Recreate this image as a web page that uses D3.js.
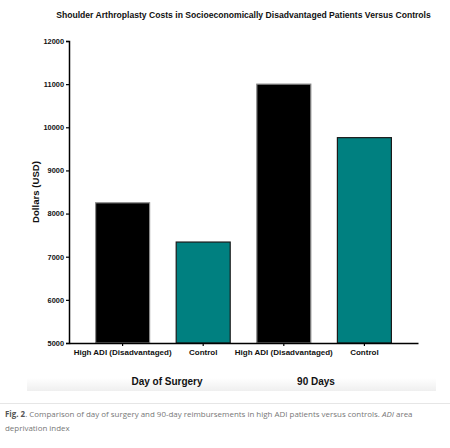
<!DOCTYPE html>
<html lang="en">
<head>
    <meta charset="UTF-8">
    <script src="https://cdn.jsdelivr.net/npm/d3@7"></script>
    <title>Shoulder Arthroplasty Costs</title>
    <style>
        html,
        body {
            margin: 0px;
            padding: 0px;
            background-color: #ffffff;
        }
        svg { display: block; }
    </style>
</head>
<body>
    <div id='chart'></div>
    <script>

        // values
        const categories = ['High ADI (Disadvantaged)', 'Control', 'High ADI (Disadvantaged) ', 'Control '];
        const costs = [8250, 7340, 11000, 9760];
        const fills = ['#000000', '#008080', '#000000', '#008080'];
        const yTicks = [5000, 6000, 7000, 8000, 9000, 10000, 11000, 12000];
        const groups = ['Day of Surgery', '90 Days'];

        const width = 450, height = 448;
        const plotLeft = 69, plotRight = 418, plotTop = 41, plotBottom = 343;

        let svg = d3.select('#chart').append('svg')
            .attr('width', width).attr('height', height);

        let defs = svg.append('defs');
        let grad = defs.append('linearGradient').attr('id', 'band')
            .attr('x1', 0).attr('y1', 0).attr('x2', 0).attr('y2', 1);
        grad.append('stop').attr('offset', '0%').attr('stop-color', '#ffffff');
        grad.append('stop').attr('offset', '100%').attr('stop-color', '#efefef');

        // faint shaded strip behind the group labels
        svg.append('rect')
            .attr('x', 27).attr('y', 378)
            .attr('width', 409).attr('height', 13)
            .attr('fill', 'url(#band)');

        let x = d3.scaleBand()
            .domain(categories)
            .range([plotLeft, plotRight])
            .paddingInner(0.33)
            .paddingOuter(0.33);

        let y = d3.scaleLinear()
            .domain([5000, 12000])
            .range([plotBottom, plotTop]);

        // title
        svg.append('text')
            .attr('x', 243.5).attr('y', 18)
            .attr('text-anchor', 'middle')
            .attr('font-family', 'Liberation Sans, Arial, sans-serif')
            .attr('font-weight', 'bold')
            .attr('font-size', '8.6px')
            .attr('fill', '#111')
            .text('Shoulder Arthroplasty Costs in Socioeconomically Disadvantaged Patients Versus Controls');

        // bars
        svg.append('g').selectAll('rect')
            .data(costs)
            .join('rect')
            .attr('x', (d, i) => x(categories[i]))
            .attr('y', d => y(d))
            .attr('width', x.bandwidth())
            .attr('height', d => y(5000) - y(d))
            .attr('fill', (d, i) => fills[i])
            .attr('stroke', (d, i) => fills[i] === '#000000' ? '#8a8a8a' : '#1a1a1a')
            .attr('stroke-width', 1.2);

        // y axis
        let yAxis = svg.append('g')
            .attr('transform', `translate(${plotLeft},0)`)
            .call(d3.axisLeft(y).tickValues(yTicks).tickSize(3).tickPadding(2).tickFormat(d3.format('d')));
        yAxis.select('.domain').attr('stroke', '#000').attr('stroke-width', 1.5);
        yAxis.selectAll('.tick line').attr('stroke', '#000').attr('stroke-width', 1.2);
        yAxis.selectAll('.tick text')
            .attr('font-family', 'Liberation Sans, Arial, sans-serif')
            .attr('font-weight', 'bold')
            .attr('font-size', '7.4px')
            .attr('fill', '#111');

        // x axis
        let xAxis = svg.append('g')
            .attr('transform', `translate(0,${plotBottom})`)
            .call(d3.axisBottom(x).tickSize(3).tickPadding(3).tickSizeOuter(0));
        xAxis.select('.domain').attr('stroke', '#000').attr('stroke-width', 1.5);
        xAxis.selectAll('.tick line').attr('stroke', '#000').attr('stroke-width', 1.2);
        xAxis.selectAll('.tick text')
            .attr('font-family', 'Liberation Sans, Arial, sans-serif')
            .attr('font-weight', 'bold')
            .attr('font-size', '8px')
            .attr('fill', '#111');

        // y label
        svg.append('text')
            .attr('transform', 'translate(39,192) rotate(-90)')
            .attr('text-anchor', 'middle')
            .attr('font-family', 'Liberation Sans, Arial, sans-serif')
            .attr('font-weight', 'bold')
            .attr('font-size', '9.6px')
            .attr('fill', '#111')
            .text('Dollars (USD)');

        // group labels
        let groupX = [167, 316];
        svg.append('g').selectAll('text')
            .data(groups)
            .join('text')
            .attr('x', (d, i) => groupX[i])
            .attr('y', 385)
            .attr('text-anchor', 'middle')
            .attr('font-family', 'Liberation Sans, Arial, sans-serif')
            .attr('font-weight', 'bold')
            .attr('font-size', '10px')
            .attr('fill', '#111')
            .text(d => d);

        // separator
        svg.append('line')
            .attr('x1', 0).attr('x2', width)
            .attr('y1', 403.5).attr('y2', 403.5)
            .attr('stroke', '#e6e6e6');

        // caption
        let cap = svg.append('text')
            .attr('x', 5).attr('y', 417)
            .attr('font-family', 'Open Sans, sans-serif')
            .attr('font-size', '7.95px')
            .attr('fill', '#777');
        cap.append('tspan').attr('font-weight', 'bold').attr('fill', '#555').text('Fig. 2');
        cap.append('tspan').text('. Comparison of day of surgery and 90-day reimbursements in high ADI patients versus controls. ');
        cap.append('tspan').attr('font-style', 'italic').text('ADI');
        cap.append('tspan').text(' area');

        svg.append('text')
            .attr('x', 5).attr('y', 431)
            .attr('font-family', 'Open Sans, sans-serif')
            .attr('font-size', '7.95px')
            .attr('fill', '#777')
            .text('deprivation index');

    </script>
</body>
</html>
